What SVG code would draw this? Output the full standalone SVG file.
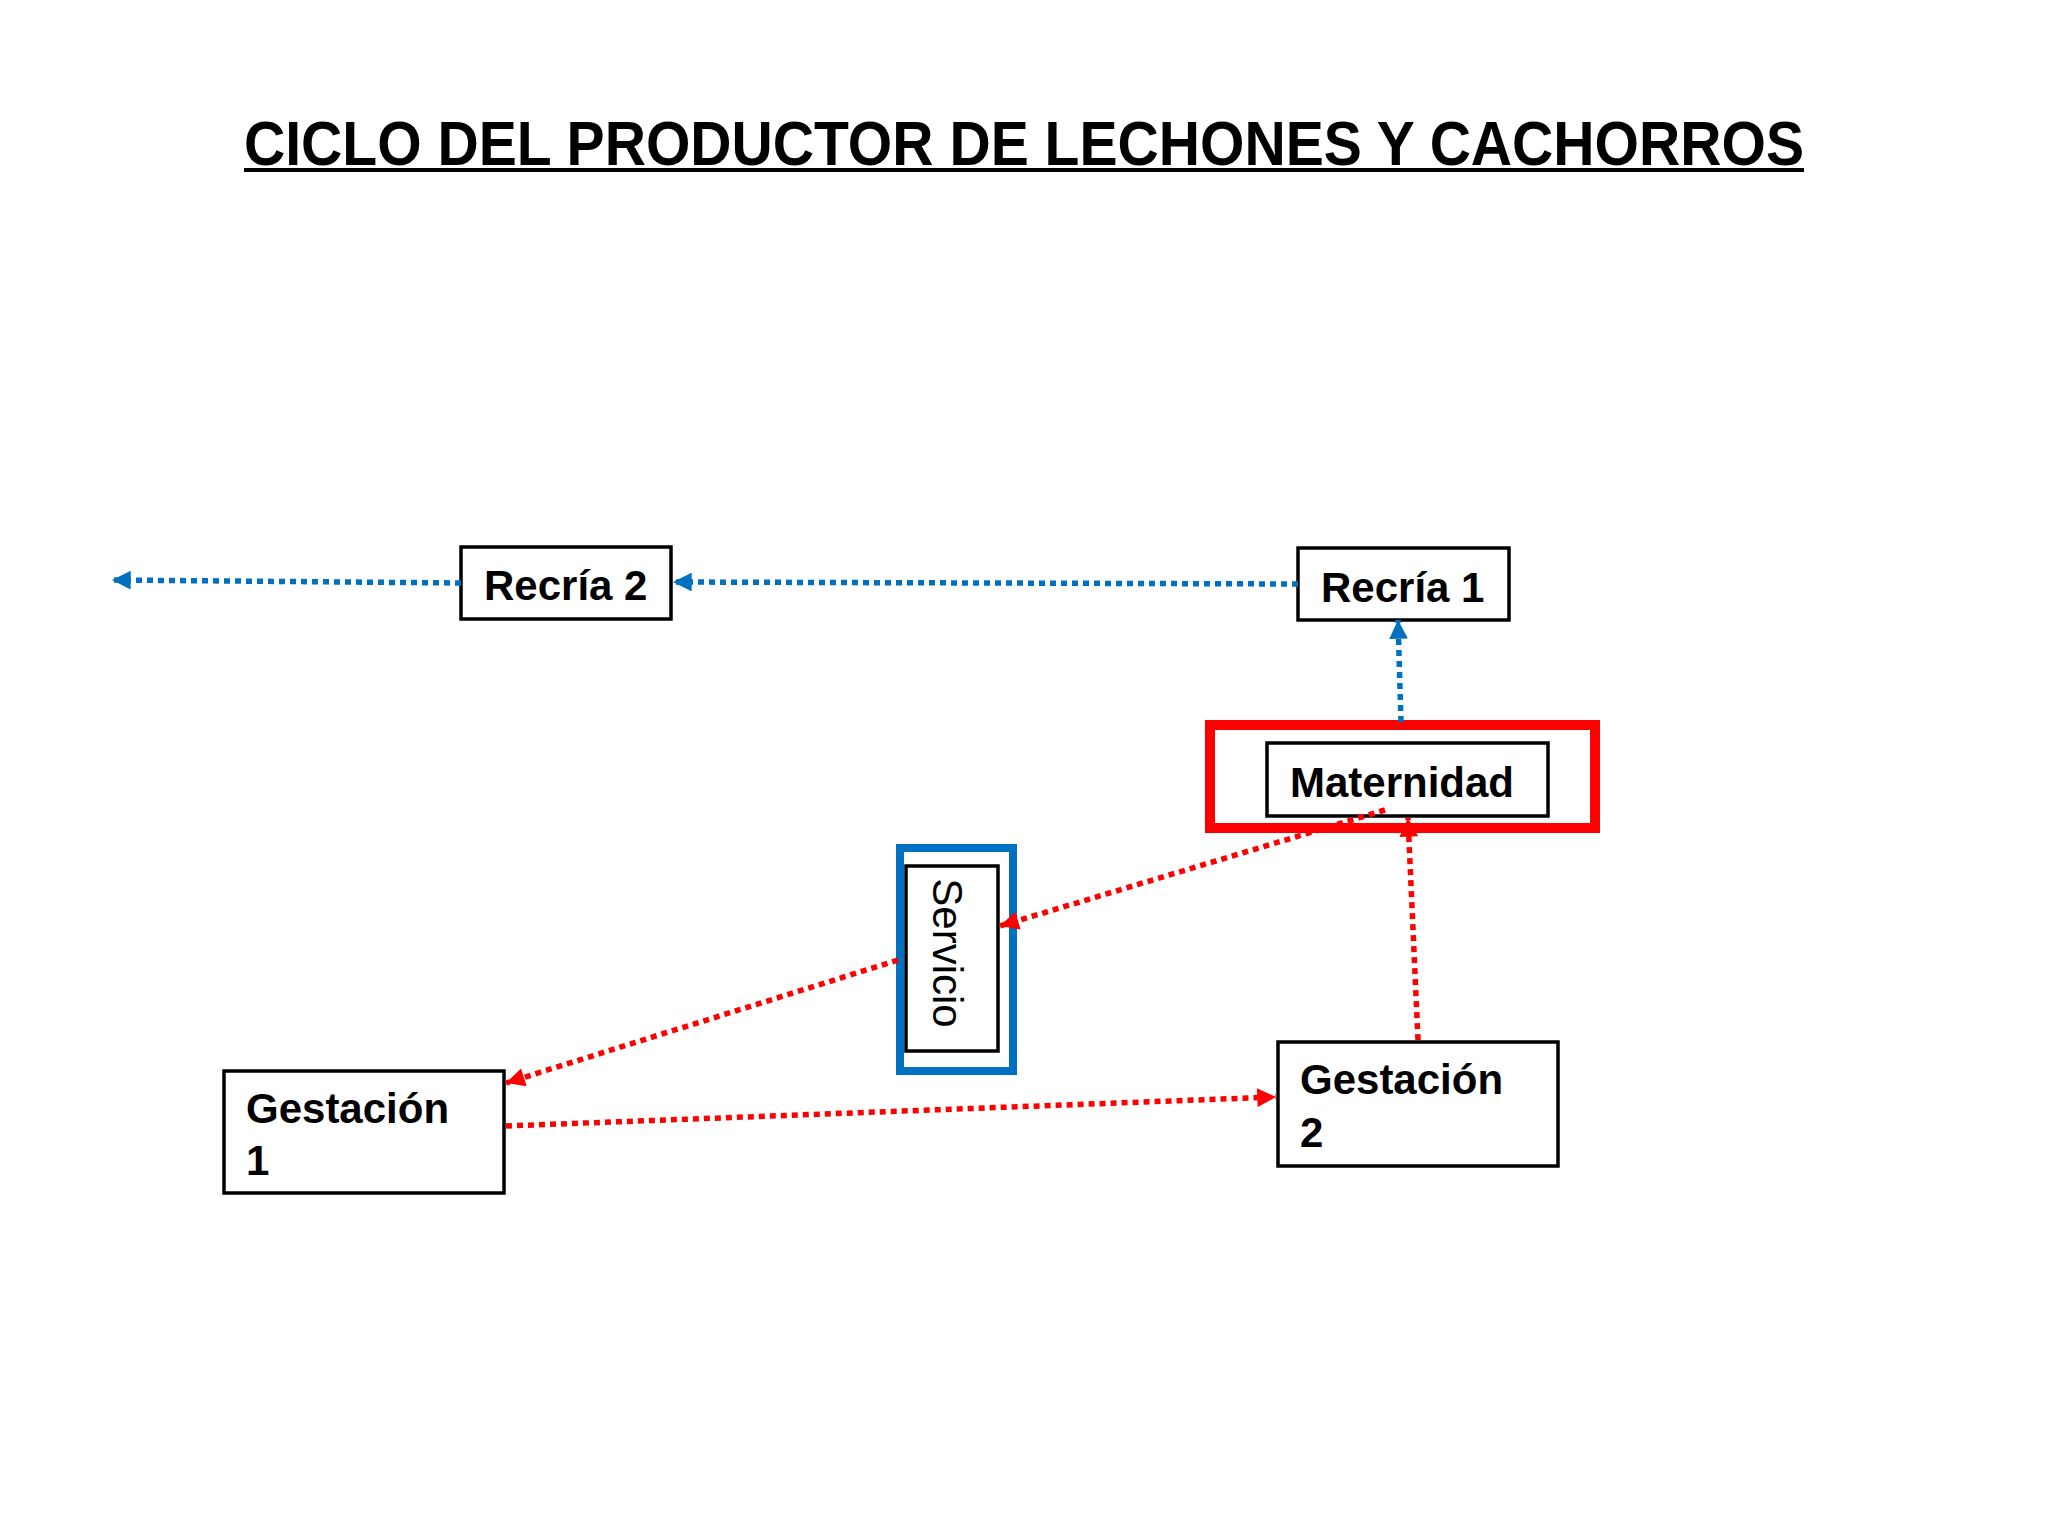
<svg xmlns="http://www.w3.org/2000/svg" width="2048" height="1536" viewBox="0 0 2048 1536">
<style>
.box{fill:#fff;stroke:#000;stroke-width:3.5}
.lbl{font-family:"Liberation Sans",Arial,sans-serif;font-size:42px;font-weight:bold;fill:#000}
.blue{fill:none;stroke:#0070C0;stroke-width:5.5;stroke-dasharray:6 5}
.red{fill:none;stroke:#FF0000;stroke-width:5.5;stroke-dasharray:6 5}
</style>
<defs>
<marker id="ab" viewBox="0 0 10 10" refX="10" refY="5" markerWidth="3.6" markerHeight="3.4" orient="auto" markerUnits="strokeWidth"><path d="M0,0 L10,5 L0,10 Z" fill="#0070C0"/></marker>
<marker id="ar" viewBox="0 0 10 10" refX="10" refY="5" markerWidth="3.6" markerHeight="3.4" orient="auto" markerUnits="strokeWidth"><path d="M0,0 L10,5 L0,10 Z" fill="#FF0000"/></marker>
</defs>
<rect width="2048" height="1536" fill="#fff"/>
<g id="title">
<text x="244" y="165" textLength="1560" lengthAdjust="spacingAndGlyphs" font-family="Liberation Sans, Arial, sans-serif" font-size="63" font-weight="bold" fill="#000">CICLO DEL PRODUCTOR DE LECHONES Y CACHORROS</text>
<line x1="244" y1="170" x2="1804" y2="170" stroke="#000" stroke-width="4"/>
</g>
<g id="recria2">
<rect class="box" x="461" y="547" width="210" height="72"/>
<text class="lbl" x="484" y="600">Recría 2</text>
</g>
<g id="recria1">
<rect class="box" x="1298" y="548" width="211" height="72"/>
<text class="lbl" x="1321" y="602">Recría 1</text>
</g>
<g id="maternidad">
<rect x="1210" y="725" width="385" height="103" fill="none" stroke="#FF0000" stroke-width="10"/>
<rect class="box" x="1267" y="743" width="281" height="73"/>
<text class="lbl" x="1290" y="797">Maternidad</text>
</g>
<g id="servicio">
<rect x="900" y="848" width="113" height="223" fill="none" stroke="#0070C0" stroke-width="8"/>
<rect class="box" x="906" y="866" width="92" height="185"/>
<text transform="translate(933,953) rotate(90)" text-anchor="middle" font-family="Liberation Sans, Arial, sans-serif" font-size="42" fill="#000">Servicio</text>
</g>
<g id="gestacion1">
<rect class="box" x="224" y="1071" width="280" height="122"/>
<text class="lbl" x="246" y="1123">Gestación</text>
<text class="lbl" x="246" y="1175">1</text>
</g>
<g id="gestacion2">
<rect class="box" x="1278" y="1042" width="280" height="124"/>
<text class="lbl" x="1300" y="1094">Gestación</text>
<text class="lbl" x="1300" y="1147">2</text>
</g>
<g id="connectors">
<line class="blue" x1="461" y1="583" x2="112" y2="580" marker-end="url(#ab)"/>
<line class="blue" x1="1298" y1="584" x2="673" y2="582" marker-end="url(#ab)"/>
<line class="blue" x1="1401" y1="722" x2="1398" y2="620" marker-end="url(#ab)"/>
<line class="red" x1="1385" y1="810" x2="1000" y2="926" marker-end="url(#ar)"/>
<line class="red" x1="898" y1="960" x2="506" y2="1083" marker-end="url(#ar)"/>
<line class="red" x1="506" y1="1126" x2="1276" y2="1097" marker-end="url(#ar)"/>
<line class="red" x1="1418" y1="1040" x2="1408" y2="818" marker-end="url(#ar)"/>
</g>
</svg>
